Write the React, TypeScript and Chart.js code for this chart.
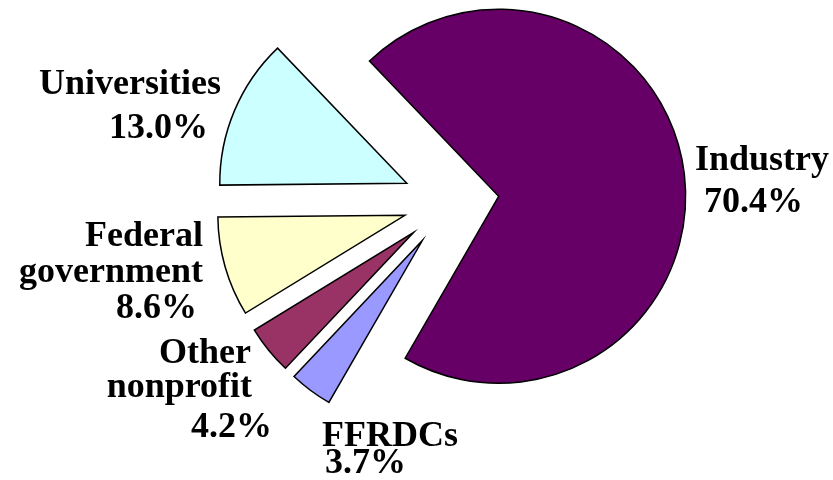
import React, { useEffect, useRef } from "react";
import { Chart, registerables } from "chart.js";

Chart.register(...registerables);

// ---- data ----
const CATEGORIES = ["Industry", "FFRDCs", "Other nonprofit", "Federal government", "Universities"];
const VALUES = [70.4, 3.7, 4.2, 8.6, 13.0];
const COLORS = ["#660066", "#9999FF", "#993366", "#FFFFCC", "#CCFFFF"];
// label text lines (category name split into lines, then percentage)
const LABEL_LINES = [["Industry"], ["FFRDCs"], ["Other", "nonprofit"], ["Federal", "government"], ["Universities"]];

// ---- layout / style ----
const EXPLODE = 48; // px each slice is pulled out along its mid-angle
const LABEL_FONT = 'bold 36px "Liberation Serif", "Times New Roman", serif';
// anchor per text line: [x, baselineY, align]
const LABEL_POS: [number, number, CanvasTextAlign][][] = [
  [[695, 170, "left"], [704, 212, "left"]],
  [[322, 446, "left"], [325, 473, "left"]],
  [[251, 363, "right"], [252, 397, "right"], [272, 437, "right"]],
  [[203, 246, "right"], [203, 282, "right"], [197, 318, "right"]],
  [[39, 94, "left"], [109, 138, "left"]],
];

const explodePlugin = {
  id: "explode",
  beforeDatasetDraw(chart: any, args: any) {
    const ctx = chart.ctx;
    args.meta.data.forEach((arc: any) => {
      const { startAngle, endAngle } = arc.getProps(["startAngle", "endAngle"], true);
      const mid = (startAngle + endAngle) / 2;
      ctx.save();
      ctx.translate(Math.cos(mid) * EXPLODE, Math.sin(mid) * EXPLODE);
      arc.draw(ctx, chart.chartArea);
      ctx.restore();
    });
    return false;
  },
};

const labelPlugin = {
  id: "sliceLabels",
  afterDraw(chart: any) {
    const ctx = chart.ctx;
    ctx.save();
    ctx.font = LABEL_FONT;
    ctx.fillStyle = "#000";
    ctx.textBaseline = "alphabetic";
    VALUES.forEach((v, i) => {
      const lines = [...LABEL_LINES[i], `${v.toFixed(1)}%`];
      lines.forEach((t, j) => {
        const [x, y, align] = LABEL_POS[i][j];
        ctx.textAlign = align;
        ctx.fillText(t, x, y);
      });
    });
    ctx.restore();
  },
};

export default function App() {
  const ref = useRef<HTMLCanvasElement>(null);
  useEffect(() => {
    document.body.style.margin = "0";
    const chart = new Chart(ref.current as HTMLCanvasElement, {
      type: "pie",
      data: {
        labels: CATEGORIES,
        datasets: [
          {
            data: VALUES,
            backgroundColor: COLORS,
            borderColor: "#000000",
            borderWidth: 1.5,
            borderJoinStyle: "miter",
            offset: 0,
            clip: false,
          } as any,
        ],
      },
      options: {
        animation: false,
        responsive: false,
        events: [],
        rotation: -43.7,
        radius: 187,
        layout: { padding: { left: 69, right: 0, top: 0, bottom: 76 } },
        plugins: { legend: { display: false }, tooltip: { enabled: false } },
      } as any,
      plugins: [explodePlugin, labelPlugin],
    });
    return () => chart.destroy();
  }, []);
  return (
    <div style={{ position: "absolute", left: 0, top: 0, width: 833, height: 480, background: "#fff" }}>
      <canvas ref={ref} width={833} height={480} style={{ display: "block", width: 833, height: 480 }} />
    </div>
  );
}
